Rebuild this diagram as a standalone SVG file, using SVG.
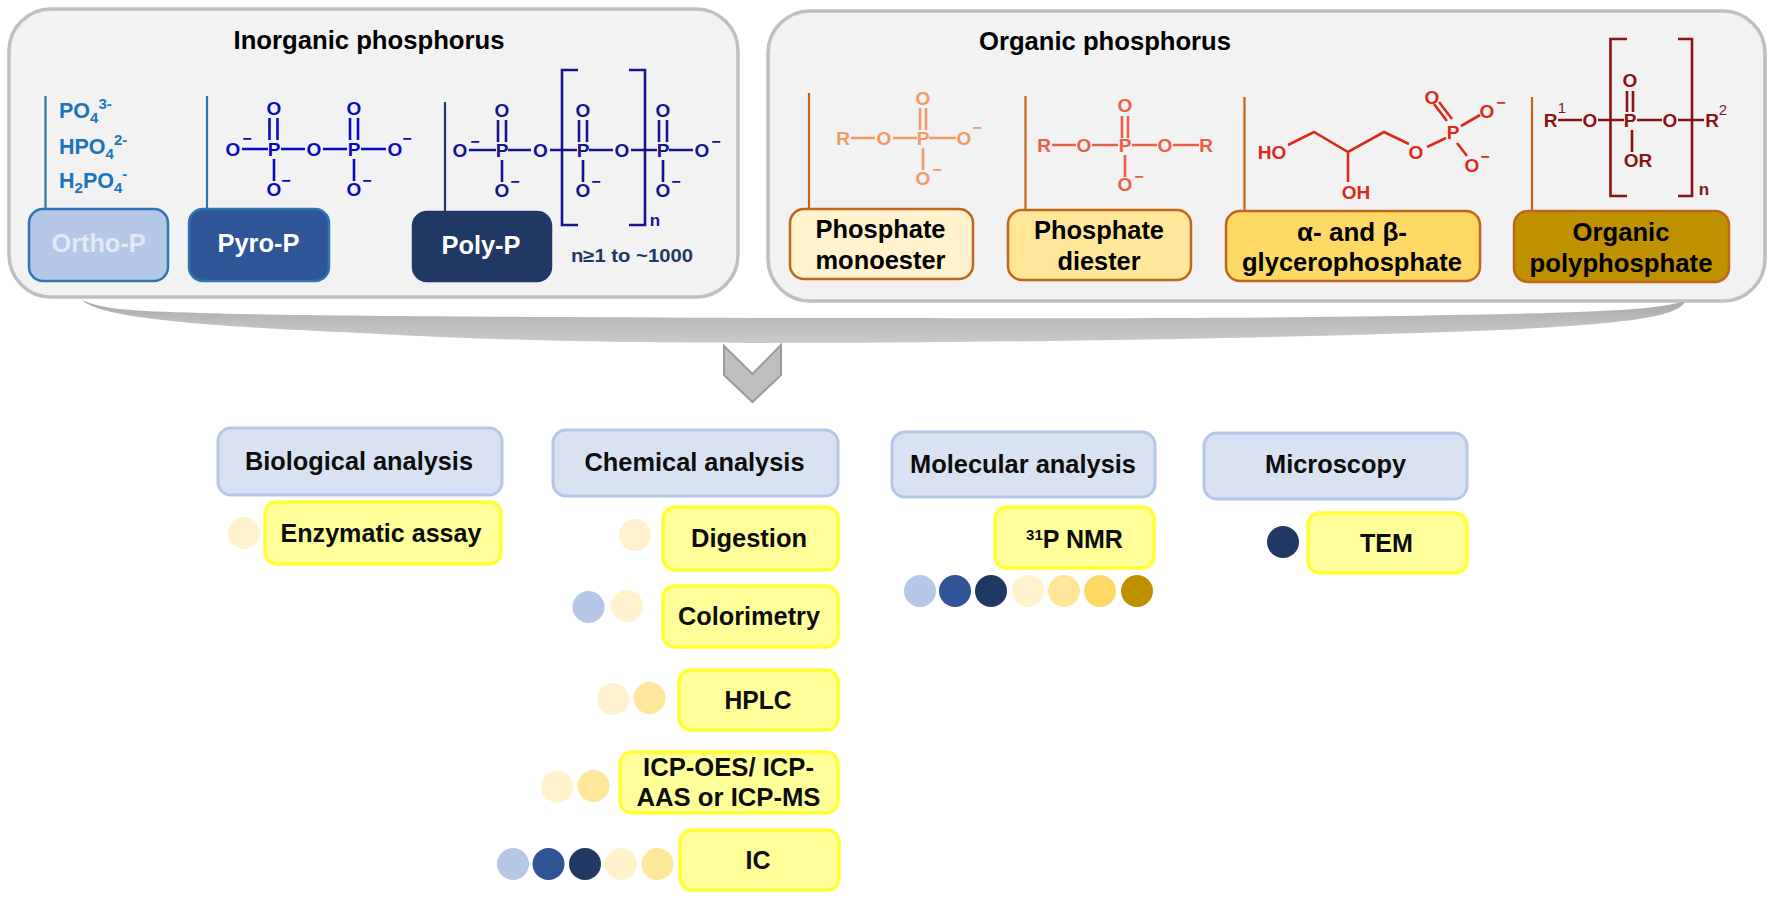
<svg xmlns="http://www.w3.org/2000/svg" width="1770" height="903" viewBox="0 0 1770 903">
<defs><linearGradient id="barfill" x1="0" y1="0" x2="0" y2="1"><stop offset="0" stop-color="#a6a6a6"/><stop offset="0.55" stop-color="#bfbfbf"/><stop offset="1" stop-color="#c9c9c9"/></linearGradient></defs>
<style>
text{font-family:"Liberation Sans",Arial,sans-serif;font-weight:700;text-anchor:middle;fill:#000}
.panel{fill:#f2f2f2;stroke:#bfbfbf;stroke-width:3.5}
.title{font-size:25px}
.lbl{font-size:25px}
.box{stroke-width:2.5}
.head{fill:#d9e2f3;stroke:#b4c7e7;stroke-width:3}
.head-t{font-size:25px;fill:#0d0d0d}
.meth{fill:#ffff99;stroke:#ffff33;stroke-width:3.5}
.a{font-size:19px}
.m{font-size:16px}
.s{fill:none;stroke-width:2.6}
.c1{fill:#b4c7e7}.c2{fill:#2f5597}.c3{fill:#1f3864}.c4{fill:#fff2cc}.c5{fill:#ffe699}.c6{fill:#ffd966}.c7{fill:#bf9000}
.pyro text{fill:#0a0ac0}.pyro .s{stroke:#0a0ac0}
.poly text{fill:#14148c}.poly .s{stroke:#14148c}
.mono text{fill:#ee9b66}.mono .s{stroke:#ee9b66}
.di text{fill:#e9604a}.di .s{stroke:#e9604a}
.gly text{fill:#d92b1c}.gly .s{stroke:#d92b1c}
.opp text{fill:#8a1414}.opp .s{stroke:#8a1414}
.ortho{font-size:21.5px;fill:#1b75bb;text-anchor:start}
.ortho tspan{font-size:15px}
</style>
<path id="bar" d="M82 300C100 318 200 326 360 333C500 341 650 343 760 343C1000 343 1300 338 1500 330C1620 324 1680 318 1686 300C1660 312 1560 313 1400 316C1200 319 1000 318 760 318C500 317 300 316 200 313C130 311 100 309 82 300Z" fill="url(#barfill)"/>
<path id="chevron" d="M724 346L752.500 374L781 345V375L752.500 402L724 375Z" fill="#bfbfbf" stroke="#9a9a9a" stroke-width="2"/>

<g id="inorganic-panel">
<rect class="panel" x="9" y="9" width="729" height="288" rx="42"/>
<text class="title" x="369" y="49" textLength="271" lengthAdjust="spacingAndGlyphs">Inorganic phosphorus</text>
</g>
<g id="organic-panel">
<rect class="panel" x="768" y="11" width="997" height="290" rx="42"/>
<text class="title" x="1105" y="50" textLength="252" lengthAdjust="spacingAndGlyphs">Organic phosphorus</text>
</g>

<g id="connectors" fill="none" stroke-width="2.2">
<path d="M45.500 96V209M207 96V209" stroke="#2a78a8"/>
<path d="M445 102V212" stroke="#1f3864"/>
<path d="M809 93V209M1025.500 96V210M1244.500 97V211M1532 97V211" stroke="#c0651c"/>
</g>

<g id="ortho-formulas">
<text class="ortho" x="59" y="118">PO<tspan dy="5">4</tspan><tspan dy="-14">3-</tspan></text>
<text class="ortho" x="59" y="154">HPO<tspan dy="5">4</tspan><tspan dy="-14">2-</tspan></text>
<text class="ortho" x="59" y="188">H<tspan dy="5">2</tspan><tspan dy="-5" style="font-size:21.5px">PO</tspan><tspan dy="5">4</tspan><tspan dy="-14">-</tspan></text>
</g>

<g id="ortho-p"><rect class="box" x="29" y="209" width="139" height="72" rx="14" fill="#b4c7e7" stroke="#2e75b6"/><text class="lbl" x="98.500" y="252" style="fill:#e2eaf6" textLength="94" lengthAdjust="spacingAndGlyphs">Ortho-P</text></g>
<g id="pyro-p"><rect class="box" x="189" y="209" width="140" height="72" rx="14" fill="#2f5597" stroke="#2e75b6"/><text class="lbl" x="258.500" y="252" style="fill:#fff" textLength="82" lengthAdjust="spacingAndGlyphs">Pyro-P</text></g>
<g id="poly-p"><rect class="box" x="413" y="212" width="138" height="69" rx="14" fill="#1f3864" stroke="#1f3864"/><text class="lbl" x="481" y="254" style="fill:#fff" textLength="79" lengthAdjust="spacingAndGlyphs">Poly-P</text></g>
<text id="n-range" x="632" y="262" style="font-size:18px;fill:#1f3864" textLength="122" lengthAdjust="spacingAndGlyphs">n≥1 to ~1000</text>

<g id="pyro-structure" class="pyro">
<path class="s" d="M242 149H268M281 149H305M323 149H347M361 149H386M269.500 118V140M277.500 118V140M350 118V140M358 118V140M274 159V181M354 159V181"/>
<text class="a" x="233" y="156">O</text><text class="a" x="274" y="156">P</text><text class="a" x="314" y="156">O</text><text class="a" x="354" y="156">P</text><text class="a" x="395" y="156">O</text>
<text class="a" x="274" y="115">O</text><text class="a" x="354" y="115">O</text><text class="a" x="274" y="196">O</text><text class="a" x="354" y="196">O</text>
<text class="m" x="247" y="144">−</text><text class="m" x="407" y="144">−</text><text class="m" x="286" y="186">−</text><text class="m" x="367" y="186">−</text>
</g>

<g id="poly-structure" class="poly">
<path class="s" d="M469 150H496M508 150H531M550 150H577M589 150H613M631 150H657M669 150H693M498 120V142M506 120V142M579 120V142M587 120V142M659 120V142M667 120V142M502 160V182M583 160V182M663 160V182"/>
<path class="s" d="M578 70H562V225H578M629 70H645V225H629"/>
<text class="a" x="460" y="157">O</text><text class="a" x="502" y="157">P</text><text class="a" x="540.500" y="157">O</text><text class="a" x="583" y="157">P</text><text class="a" x="622" y="157">O</text><text class="a" x="663" y="157">P</text><text class="a" x="702" y="157">O</text>
<text class="a" x="502" y="117">O</text><text class="a" x="583" y="117">O</text><text class="a" x="663" y="117">O</text><text class="a" x="502" y="197">O</text><text class="a" x="583" y="197">O</text><text class="a" x="663" y="197">O</text>
<text class="m" x="475" y="147">−</text><text class="m" x="716" y="147">−</text><text class="m" x="515" y="187">−</text><text class="m" x="596" y="187">−</text><text class="m" x="676" y="187">−</text>
<text x="655" y="226" style="font-size:17px">n</text>
</g>

<g id="monoester-structure" class="mono">
<path class="s" d="M851 138H875M893 138H917M929 138H956M920 108V130M926 108V130M923 148V170"/>
<text class="a" x="843" y="145">R</text><text class="a" x="884" y="145">O</text><text class="a" x="923" y="145">P</text><text class="a" x="964" y="145">O</text><text class="a" x="923" y="105">O</text><text class="a" x="923" y="185">O</text>
<text class="m" x="977" y="133">−</text><text class="m" x="937" y="175">−</text>
</g>
<g id="diester-structure" class="di">
<path class="s" d="M1052 145H1076M1092 145H1118M1132 145H1157M1173 145H1199M1122 116V138M1128 116V138M1125 155V177"/>
<text class="a" x="1044" y="152">R</text><text class="a" x="1084" y="152">O</text><text class="a" x="1125" y="152">P</text><text class="a" x="1165" y="152">O</text><text class="a" x="1206" y="152">R</text><text class="a" x="1125" y="112">O</text><text class="a" x="1125" y="191">O</text>
<text class="m" x="1139" y="182">−</text>
</g>
<g id="glycero-structure" class="gly">
<path class="s" d="M1288 145L1314 132L1348 152L1384 132L1409 144M1348 152V182M1427 147L1446 138M1447 121L1434 104M1452 119L1439 102M1461 126L1480 115M1457 143L1467 156"/>
<text class="a" x="1272" y="159">HO</text><text class="a" x="1356" y="199">OH</text><text class="a" x="1416" y="159">O</text><text class="a" x="1453" y="139">P</text><text class="a" x="1432" y="104">O</text><text class="a" x="1487" y="118">O</text><text class="a" x="1472" y="172">O</text>
<text class="m" x="1501" y="108">−</text><text class="m" x="1485" y="162">−</text>
</g>
<g id="organic-poly-structure" class="opp">
<path class="s" d="M1558 120H1582M1598 120H1624M1637 120H1662M1678 120H1704M1627 91V112M1633 91V112M1632 130V152"/>
<path class="s" d="M1627 39H1610.500V196H1627M1678 39H1692V196H1678"/>
<text class="a" x="1550.500" y="127">R</text><text x="1562" y="113" style="font-size:15px;font-weight:400">1</text><text class="a" x="1590" y="127">O</text><text class="a" x="1630" y="127">P</text><text class="a" x="1670" y="127">O</text><text class="a" x="1712" y="127">R</text><text x="1723" y="115" style="font-size:15px;font-weight:400">2</text>
<text class="a" x="1630" y="87">O</text><text class="a" x="1638" y="167">OR</text>
<text x="1704" y="195" style="font-size:17px">n</text>
</g>

<g id="phosphate-monoester"><rect class="box" x="790" y="209" width="183" height="70" rx="14" fill="#fff2cc" stroke="#c0651c"/><text class="lbl" x="880.500" y="238" textLength="130" lengthAdjust="spacingAndGlyphs">Phosphate</text><text class="lbl" x="880.500" y="269" textLength="130" lengthAdjust="spacingAndGlyphs">monoester</text></g>
<g id="phosphate-diester"><rect class="box" x="1008" y="210" width="183" height="70" rx="14" fill="#ffe699" stroke="#c0651c"/><text class="lbl" x="1099" y="239" textLength="130" lengthAdjust="spacingAndGlyphs">Phosphate</text><text class="lbl" x="1099" y="270" textLength="83" lengthAdjust="spacingAndGlyphs">diester</text></g>
<g id="glycerophosphate"><rect class="box" x="1226" y="211" width="254" height="70" rx="14" fill="#ffd966" stroke="#c0651c"/><text class="lbl" x="1352" y="241" textLength="110" lengthAdjust="spacingAndGlyphs">α- and β-</text><text class="lbl" x="1352" y="271" textLength="220" lengthAdjust="spacingAndGlyphs">glycerophosphate</text></g>
<g id="organic-polyphosphate"><rect class="box" x="1514" y="211" width="215" height="71" rx="14" fill="#bf9000" stroke="#c0651c"/><text class="lbl" x="1621" y="241" textLength="97" lengthAdjust="spacingAndGlyphs">Organic</text><text class="lbl" x="1621" y="272" textLength="183" lengthAdjust="spacingAndGlyphs">polyphosphate</text></g>

<g id="biological-analysis"><rect class="head" x="218" y="428" width="284" height="67" rx="13"/><text class="head-t" x="359" y="470" textLength="228" lengthAdjust="spacingAndGlyphs">Biological analysis</text></g>
<g id="chemical-analysis"><rect class="head" x="553" y="430" width="285" height="66" rx="13"/><text class="head-t" x="694.500" y="471" textLength="220" lengthAdjust="spacingAndGlyphs">Chemical analysis</text></g>
<g id="molecular-analysis"><rect class="head" x="892" y="432" width="263" height="65" rx="13"/><text class="head-t" x="1023" y="473" textLength="226" lengthAdjust="spacingAndGlyphs">Molecular analysis</text></g>
<g id="microscopy"><rect class="head" x="1204" y="433" width="263" height="66" rx="13"/><text class="head-t" x="1335.500" y="473" textLength="141" lengthAdjust="spacingAndGlyphs">Microscopy</text></g>

<g id="enzymatic-assay"><rect class="meth" x="265" y="502" width="236" height="62" rx="12"/><text class="head-t" x="381" y="542" textLength="201" lengthAdjust="spacingAndGlyphs">Enzymatic assay</text><circle class="c4" cx="244" cy="533" r="16"/></g>
<g id="digestion"><rect class="meth" x="663" y="507" width="175" height="63" rx="12"/><text class="head-t" x="749" y="547" textLength="116" lengthAdjust="spacingAndGlyphs">Digestion</text><circle class="c4" cx="635" cy="535" r="16"/></g>
<g id="colorimetry"><rect class="meth" x="663" y="586" width="175" height="61" rx="12"/><text class="head-t" x="749" y="625" textLength="142" lengthAdjust="spacingAndGlyphs">Colorimetry</text><circle class="c1" cx="588.500" cy="607" r="16"/><circle class="c4" cx="627" cy="606" r="16"/></g>
<g id="hplc"><rect class="meth" x="679" y="670" width="159" height="60" rx="12"/><text class="head-t" x="758" y="709" textLength="67" lengthAdjust="spacingAndGlyphs">HPLC</text><circle class="c4" cx="613" cy="699" r="16"/><circle class="c5" cx="649.500" cy="698" r="16"/></g>
<g id="icp"><rect class="meth" x="620" y="752" width="218" height="61" rx="12"/><text class="head-t" x="728.500" y="776" textLength="171" lengthAdjust="spacingAndGlyphs">ICP-OES/ ICP-</text><text class="head-t" x="728.500" y="806" textLength="184" lengthAdjust="spacingAndGlyphs">AAS or ICP-MS</text><circle class="c4" cx="557" cy="786.500" r="16"/><circle class="c5" cx="593.500" cy="786" r="16"/></g>
<g id="ic"><rect class="meth" x="680" y="830" width="159" height="60" rx="12"/><text class="head-t" x="758" y="869">IC</text><circle class="c1" cx="513" cy="864" r="16"/><circle class="c2" cx="548.500" cy="864" r="16"/><circle class="c3" cx="585" cy="864" r="16"/><circle class="c4" cx="621" cy="864" r="16"/><circle class="c5" cx="657.500" cy="864" r="16"/></g>
<g id="p-nmr"><rect class="meth" x="995" y="507" width="159" height="61" rx="12"/><text class="head-t" x="1074.500" y="548"><tspan dy="-8" style="font-size:15px">31</tspan><tspan dy="8">P NMR</tspan></text><g><circle class="c1" cx="920" cy="591" r="16"/><circle class="c2" cx="955" cy="591" r="16"/><circle class="c3" cx="991" cy="591" r="16"/><circle class="c4" cx="1028" cy="591" r="16"/><circle class="c5" cx="1064" cy="591" r="16"/><circle class="c6" cx="1100" cy="591" r="16"/><circle class="c7" cx="1137" cy="591" r="16"/></g></g>
<g id="tem"><rect class="meth" x="1308" y="513" width="159" height="60" rx="12"/><text class="head-t" x="1386.500" y="552" textLength="53" lengthAdjust="spacingAndGlyphs">TEM</text><circle class="c3" cx="1283" cy="542" r="16"/></g>
</svg>
